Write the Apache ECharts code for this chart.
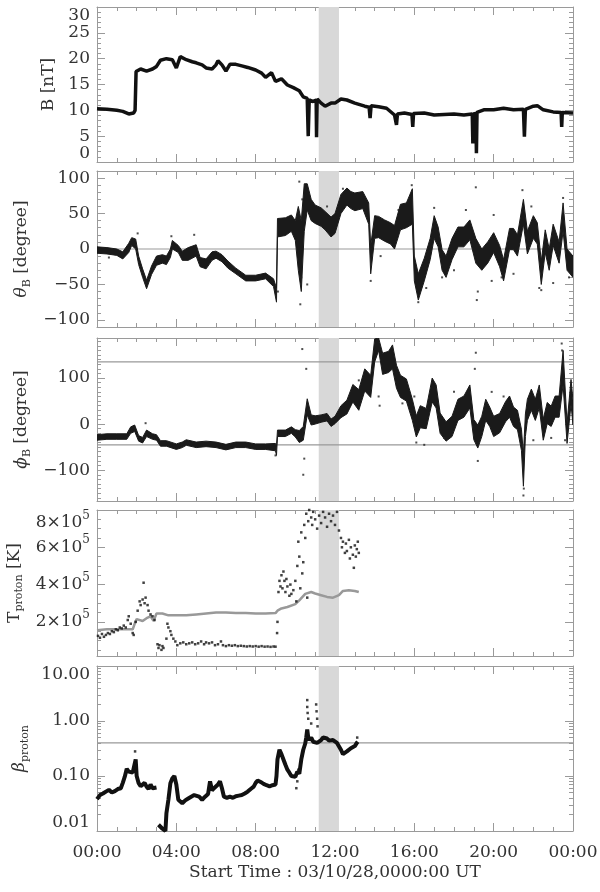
<!DOCTYPE html>
<html><head><meta charset="utf-8">
<script src="https://cdn.jsdelivr.net/npm/echarts@6/dist/echarts.min.js"></script>
<style>html,body{margin:0;padding:0;background:#fff}#c{width:600px;height:892px}</style>
</head><body><div id="c"></div>
<script>
// ---------------- DATA (hours since 00:00 UT) ----------------
const bandHours = [11.18, 12.2];

// Panel 1: |B| [nT]
const bT = [0,0.5,1,1.3,1.6,1.85,1.92,1.97,2.2,2.5,2.8,3.0,3.2,3.5,3.8,4.0,4.2,4.5,4.8,5.0,5.3,5.5,5.8,6.0,6.1,6.3,6.5,6.7,7.0,7.3,7.6,8.0,8.3,8.5,8.8,9.0,9.3,9.6,9.9,10.2,10.4,10.6,10.65,10.7,10.9,11.05,11.07,11.1,11.3,11.5,11.8,12.0,12.3,12.6,13.0,13.5,13.72,13.77,13.82,14.2,14.6,15.0,15.08,15.1,15.15,15.5,15.88,15.92,15.96,16.5,17.0,17.5,18.0,18.5,18.92,18.95,18.98,19.1,19.13,19.16,19.5,20.0,20.5,21.0,21.5,21.55,21.6,22.0,22.2,22.5,23.0,23.4,23.43,23.46,24];
const bV = [10.3,10.2,10.0,9.8,9.3,9.5,10.0,17.5,18.0,17.6,18.0,18.5,19.7,20.0,19.8,18.2,20.4,19.8,19.4,19.2,18.8,18.2,18.0,18.8,19.6,18.8,17.6,18.9,18.9,18.6,18.3,17.8,17.2,16.4,17.3,15.6,16.1,14.9,14.4,13.8,12.6,12.3,5.0,12.0,11.7,12.0,4.8,12.2,11.4,10.8,11.4,11.4,12.2,12.0,11.4,10.8,10.6,8.5,10.9,10.7,10.4,9.1,9.0,7.2,9.3,9.5,9.2,6.8,9.4,9.5,9.1,9.2,9.3,9.1,9.3,3.6,9.3,9.4,1.7,9.6,10.1,10.1,10.4,10.1,10.2,4.9,10.2,10.8,10.9,10.1,9.7,9.6,6.8,9.6,9.5];

// Panel 2: theta_B [degree]  (time, lower, upper of the dense band)
const thT  = [0,0.5,1.0,1.3,1.6,1.75,1.95,2.1,2.3,2.5,2.75,3.0,3.3,3.5,3.7,3.8,4.1,4.3,4.6,5.0,5.2,5.5,5.8,6.0,6.3,6.6,7.0,7.5,8.0,8.5,8.9,9.05,9.1,9.5,9.8,10.0,10.15,10.3,10.45,10.6,10.8,11.0,11.3,11.5,11.8,12.0,12.3,12.6,12.8,13.0,13.4,13.7,13.8,14.0,14.2,14.5,14.8,15.0,15.3,15.6,15.9,16.0,16.2,16.5,16.8,17.0,17.2,17.4,17.6,17.9,18.2,18.5,18.8,19.1,19.4,19.7,20.0,20.3,20.5,20.8,21.0,21.2,21.5,21.7,22.0,22.2,22.4,22.6,22.8,23.0,23.3,23.5,23.7,24.0];
const thLo = [-6,-7,-9,-14,-5,5,0,-22,-40,-56,-36,-23,-20,-22,-12,0,-5,-16,-16,-10,-25,-28,-16,-13,-18,-27,-35,-45,-45,-42,-53,-75,17,19,25,12,-30,-60,25,55,40,36,32,27,17,22,50,62,57,54,57,35,-35,15,16,11,7,0,27,30,35,-45,-72,-45,-15,15,3,-30,-40,-15,3,3,13,-20,-30,-20,-5,-25,-45,-1,-1,-10,35,-7,15,7,-50,-5,-30,5,-20,25,-30,-40];
const thHi = [3,2,0,-4,8,16,14,-10,-28,-44,-24,-10,-8,-10,0,12,5,-3,2,6,-12,-14,-4,-3,-8,-17,-27,-37,-37,-34,-42,-55,43,44,48,40,60,40,92,92,70,62,58,53,45,50,77,86,81,79,81,65,5,47,46,41,37,33,63,65,85,-10,-35,-13,15,47,31,-1,-10,15,31,31,41,15,0,10,23,5,-15,29,29,20,70,25,47,37,-17,27,0,35,10,65,0,-10];
const thOutT = [0.6,2.05,3.75,4.9,9.12,10.2,10.25,10.3,10.35,10.6,11.6,12.4,13.8,14.3,15.2,15.87,16.2,16.6,17.0,17.4,18.0,18.6,19.1,19.15,19.2,19.9,20.0,20.4,21.0,21.45,21.9,22.3,22.4,23.0,23.5,23.8];
const thOutV = [-12,22,18,20,-60,95,-78,-40,70,-50,60,85,-45,-10,55,90,-75,-55,58,-40,-30,55,87,-72,-60,-45,48,-40,-35,83,60,-55,-58,-48,72,-40];

// Panel 3: phi_B [degree]
const phT  = [0,0.5,1.0,1.5,1.7,1.9,2.1,2.3,2.5,2.8,3.0,3.2,3.5,4.0,4.3,4.5,5.0,5.5,6.0,6.5,7.0,7.5,8.0,8.5,9.0,9.05,9.1,9.5,9.8,10.0,10.2,10.4,10.6,10.8,11.0,11.3,11.6,11.8,12.0,12.3,12.6,12.9,13.2,13.5,13.8,14.0,14.2,14.4,14.7,14.9,15.1,15.3,15.6,15.9,16.1,16.3,16.6,16.9,17.1,17.3,17.6,17.9,18.2,18.5,18.8,19.0,19.2,19.4,19.6,19.8,20.0,20.3,20.6,20.8,21.0,21.2,21.4,21.5,21.6,21.7,21.9,22.1,22.3,22.5,22.7,22.9,23.1,23.3,23.5,23.7,23.9,24.0];
const phLo = [-35,-33,-33,-33,-20,-16,-37,-41,-27,-33,-35,-48,-48,-55,-51,-46,-51,-49,-51,-56,-51,-51,-55,-55,-58,-68,-27,-27,-20,-28,-40,-35,20,-2,0,4,7,-5,1,14,22,48,30,72,58,135,160,108,112,120,78,58,50,8,-28,-8,-10,48,35,-20,-37,-27,8,15,35,-34,-52,-27,8,-5,-27,-19,5,15,-5,-12,-57,-135,-27,8,30,8,35,-35,1,-5,15,15,85,-42,43,-2];
const phHi = [-23,-21,-21,-21,-6,-2,-25,-29,-13,-21,-23,-36,-36,-43,-39,-34,-39,-37,-39,-44,-39,-39,-43,-43,-42,-48,-13,-13,-6,-12,-14,-5,55,20,18,20,23,11,17,40,52,86,75,120,106,185,187,154,158,172,128,106,98,54,18,40,34,100,85,24,5,17,54,61,85,10,-2,17,54,37,17,23,49,61,37,30,-11,-65,22,54,76,54,85,11,47,39,61,61,160,2,97,52];
const phOutT = [2.45,9.0,10.35,10.4,10.45,10.55,13.2,14.2,14.25,15.4,16.0,16.1,16.5,17.5,18.0,19.05,19.1,19.2,19.9,20.5,21.5,21.52,22.0,22.9,23.43,23.45,23.6];
const phOutV = [2,-68,163,-110,-75,120,95,60,40,45,60,-40,-45,-30,70,120,155,-80,70,60,-155,-140,-35,-30,175,160,-35];

// Panel 4: proton temperature [K] (black: measured, grey: expected)
const tbT = [0.05,0.15,0.25,0.35,0.45,0.55,0.65,0.75,0.85,0.95,1.05,1.15,1.25,1.35,1.45,1.55,1.6,1.7,1.8,1.85,1.95,2.05,2.15,2.2,2.3,2.35,2.4,2.45,2.55,2.6,2.7,2.8,2.9,3.05,3.1,3.15,3.25,3.3,3.35,3.5,3.55,3.6,3.7,3.75,3.85,3.95,4.05,4.2,4.35,4.5,4.65,4.8,4.95,5.1,5.25,5.4,5.5,5.65,5.8,5.95,6.1,6.25,6.35,6.5,6.65,6.8,6.95,7.1,7.25,7.4,7.55,7.7,7.85,8.0,8.15,8.3,8.45,8.6,8.75,8.9,9.0,9.08,9.1,9.15,9.2,9.25,9.3,9.35,9.4,9.45,9.5,9.55,9.6,9.7,9.75,9.8,9.9,10.0,10.05,10.1,10.15,10.2,10.25,10.3,10.35,10.4,10.45,10.5,10.55,10.6,10.65,10.7,10.8,10.85,10.9,11.0,11.1,11.2,11.3,11.4,11.5,11.6,11.7,11.8,11.9,12.0,12.1,12.2,12.3,12.35,12.4,12.5,12.55,12.6,12.7,12.75,12.8,12.9,12.95,13.0,13.05,13.1,13.15,13.2];
const tbV = [125000,115000,135000,120000,130000,140000,135000,150000,145000,160000,155000,170000,165000,180000,170000,210000,230000,190000,140000,130000,200000,260000,310000,290000,320000,410000,300000,330000,290000,260000,240000,230000,210000,80000,60000,75000,50000,70000,60000,110000,190000,170000,150000,130000,110000,95000,75000,85000,90000,80000,85000,90000,80000,85000,95000,80000,90000,85000,90000,75000,80000,95000,75000,70000,75000,72000,75000,70000,72000,70000,68000,70000,68000,70000,67000,70000,67000,68000,66000,68000,67000,140000,200000,360000,420000,390000,450000,380000,470000,420000,360000,430000,390000,340000,400000,350000,370000,420000,310000,500000,630000,550000,380000,680000,460000,520000,720000,650000,780000,330000,740000,800000,760000,720000,790000,750000,700000,770000,730000,790000,760000,710000,780000,740000,770000,720000,790000,690000,650000,600000,630000,570000,620000,580000,640000,540000,600000,560000,490000,610000,550000,590000,630000,570000];
const tgT = [0,0.5,1.0,1.5,1.8,1.9,2.0,2.3,2.5,2.7,2.85,3.0,3.3,3.6,4.0,4.5,5.0,5.5,6.0,6.5,7.0,7.5,8.0,8.5,9.0,9.1,9.3,9.6,10.0,10.2,10.5,10.8,11.0,11.3,11.6,11.9,12.2,12.4,12.7,13.0,13.2];
const tgV = [155000,160000,160000,160000,160000,190000,215000,205000,220000,230000,205000,245000,245000,235000,235000,235000,240000,245000,250000,250000,248000,247000,245000,245000,247000,260000,272000,280000,295000,315000,350000,360000,352000,343000,334000,330000,343000,366000,370000,366000,360000];

// Panel 5: proton beta
const beT = [0,0.15,0.3,0.45,0.6,0.75,0.9,1.05,1.2,1.3,1.4,1.5,1.6,1.7,1.8,1.9,1.95,2.0,2.1,2.2,2.3,2.4,2.5,2.6,2.7,2.8,2.9,3.0,3.05,3.1,3.2,3.3,3.4,3.45,3.5,3.6,3.7,3.8,3.9,4.0,4.1,4.2,4.3,4.45,4.6,4.75,4.9,5.0,5.15,5.3,5.45,5.6,5.7,5.8,5.9,6.0,6.1,6.2,6.3,6.4,6.55,6.7,6.85,7.0,7.15,7.3,7.45,7.6,7.75,7.9,8.0,8.1,8.25,8.4,8.55,8.7,8.85,9.0,9.05,9.1,9.2,9.3,9.4,9.5,9.6,9.7,9.8,9.9,10.0,10.1,10.2,10.3,10.4,10.5,10.55,10.6,10.65,10.7,10.8,10.9,11.0,11.1,11.2,11.3,11.4,11.5,11.6,11.7,11.8,11.9,12.0,12.1,12.2,12.3,12.4,12.5,12.6,12.7,12.8,12.9,13.0,13.1,13.15];
const beV = [0.038,0.045,0.048,0.052,0.056,0.05,0.053,0.058,0.06,0.075,0.097,0.135,0.12,0.13,0.115,0.11,0.2,0.1,0.074,0.065,0.068,0.075,0.064,0.058,0.07,0.06,0.065,0.062,null,0.013,0.012,0.011,0.0105,0.01,0.021,0.037,0.074,0.091,0.1,0.07,0.037,0.035,0.032,0.036,0.039,0.042,0.045,0.047,0.042,0.037,0.042,0.047,0.08,0.055,0.06,0.064,0.07,0.08,0.06,0.042,0.04,0.042,0.04,0.043,0.044,0.045,0.048,0.052,0.058,0.064,0.075,0.083,0.078,0.072,0.068,0.065,0.068,0.07,0.1,0.2,0.3,0.25,0.2,0.16,0.13,0.115,0.1,0.098,0.097,0.12,0.11,0.2,0.3,0.39,0.5,0.7,0.5,0.45,0.5,0.42,0.45,0.4,0.42,0.45,0.5,0.46,0.48,0.44,0.46,0.45,0.42,0.4,0.37,0.3,0.25,0.27,0.28,0.3,0.32,0.3,0.35,0.4,0.42];
const beOutT = [1.92,10.05,10.1,10.15,10.6,10.6,10.62,10.65,10.8,11.05,11.07,11.1,11.12,13.12];
const beOutV = [0.28,0.06,0.08,0.13,2.4,1.8,1.4,1.1,0.9,2.0,1.5,1.1,0.8,0.5];

// Reference lines per panel
const refLines = [[], [0], [135, -45], [], [0.4]];

// Axis tick values
const bTicks = [0,5,10,15,20,25,30];
const thetaTicks = [-100,-50,0,50,100];
const phiTicks = [-100,0,100];
const tempTicks = [200000,400000,600000,800000];
const betaTicks = [0.01,0.1,1,10];
const xMin = 0, xMax = 24, xStep = 4;

// ---------------- STYLE / LAYOUT ----------------
const FONT = 'DejaVu Serif';
const TXT = '#333';
const AX = '#9a9a9a';
const FS = 17;

function seq(a, b, s) { const r = []; for (let v = a; v <= b + 1e-9; v += s) r.push(Math.round(v * 1e6) / 1e6); return r; }
function minorsOf(all, majors) { return all.filter(v => !majors.some(m => Math.abs(m - v) < 1e-9)); }
const minus = v => v < 0 ? '\u2212' + (-v) : String(v);
const logMinors = [];
[0.01, 0.1, 1].forEach(d => { for (let k = 2; k <= 9; k++) logMinors.push(+(d * k).toPrecision(3)); });

const subRich = {
  sub: { fontFamily: FONT, fontSize: 11, color: TXT, padding: [10, 0, 0, 0] },
  it: { fontFamily: FONT, fontSize: FS, color: TXT, fontStyle: 'italic' },
  n: { fontFamily: FONT, fontSize: FS, color: TXT }
};

const P = [
  { top: 7, h: 155, min: 0, max: 30, majors: bTicks, minors: minorsOf(seq(0, 30, 1), bTicks), fmt: v => String(v), name: '{n|B [nT]}', gap: 38, vMin: 'bottom', vMax: 'top' },
  { top: 171, h: 156, min: -110, max: 110, majors: thetaTicks, minors: minorsOf(seq(-110, 110, 10), thetaTicks), fmt: minus, name: '{it|θ}{sub|B}{n| [degree]}', gap: 62 },
  { top: 338, h: 163, min: -167, max: 187, majors: phiTicks, minors: minorsOf(seq(-160, 180, 10), phiTicks), fmt: minus, name: '{it|ϕ}{sub|B}{n| [degree]}', gap: 62 },
  { top: 510, h: 146, min: 17000, max: 800000, majors: tempTicks, minors: minorsOf(seq(50000, 750000, 50000), tempTicks), fmt: v => (v / 1e5) + '×10{sup|5}', name: '{n|T}{sub|proton}{n| [K]}', gap: 70, vMax: 'top' },
  { top: 666, h: 165, log: true, min: 0.01, max: 10, majors: betaTicks, minors: logMinors, fmt: v => (+v).toFixed(2), name: '{it|β}{sub|proton}', gap: 66, vMin: 'bottom', vMax: 'top' }
];

const grids = [], xAxes = [], yAxes = [], series = [];

P.forEach((p, gi) => {
  grids.push({ left: 97, width: 476, top: p.top, height: p.h, containLabel: false, outerBoundsMode: 'none' });
  const last = gi === P.length - 1;
  ['bottom', 'top'].forEach(pos => {
    xAxes.push({
      type: 'value', gridIndex: gi, position: pos, min: xMin, max: xMax, interval: xStep,
      axisLine: { show: true, onZero: false, lineStyle: { color: AX, width: 1 } },
      axisTick: { show: true, inside: true, length: 8, lineStyle: { color: AX } },
      minorTick: { show: true, splitNumber: 4, length: 4, lineStyle: { color: AX } },
      splitLine: { show: false },
      axisLabel: { show: last && pos === 'bottom', margin: 13, color: TXT, fontFamily: FONT, fontSize: FS,
        formatter: v => { const h = v % 24; return (h < 10 ? '0' : '') + h + ':00'; } },
      name: (last && pos === 'bottom') ? 'Start Time : 03/10/28,0000:00 UT' : '',
      nameLocation: 'middle', nameGap: 33,
      nameTextStyle: { color: TXT, fontFamily: FONT, fontSize: FS }
    });
  });
  const base = { type: p.log ? 'log' : 'value', gridIndex: gi, min: p.min, max: p.max, splitLine: { show: false } };
  if (p.log) base.logBase = 10;
  ['left', 'right'].forEach(pos => {
    const lab = {
      show: true, customValues: p.majors, formatter: p.fmt, margin: 7,
      color: TXT, fontFamily: FONT, fontSize: FS,
      rich: { sup: { fontFamily: FONT, fontSize: 12, color: TXT, padding: [0, 0, 14, 0] } }
    };
    if (p.vMin) lab.verticalAlignMinLabel = p.vMin;
    if (p.vMax) lab.verticalAlignMaxLabel = p.vMax;
    yAxes.push(Object.assign({}, base, {
      position: pos,
      axisLine: { show: true, onZero: false, lineStyle: { color: AX, width: 1 } },
      axisTick: { show: true, inside: true, length: 8, customValues: p.majors, lineStyle: { color: AX } },
      axisLabel: pos === 'left' ? lab : { show: false },
      name: pos === 'left' ? p.name : '', nameLocation: 'middle', nameRotate: 90, nameGap: p.gap,
      nameTextStyle: { color: TXT, fontFamily: FONT, fontSize: FS, rich: subRich }
    }));
    yAxes.push(Object.assign({}, base, {
      position: pos,
      axisLine: { show: false, onZero: false },
      axisTick: { show: true, inside: true, length: 4, customValues: p.minors, lineStyle: { color: AX } },
      axisLabel: { show: false }
    }));
  });
  const xi = gi * 2, yi = gi * 4;
  // grey interval band
  series.push({
    type: 'custom', xAxisIndex: xi, yAxisIndex: yi, z: 1, silent: true,
    data: [[bandHours[0], bandHours[1]]],
    renderItem: (params, api) => {
      const cs = params.coordSys;
      const x1 = api.coord([api.value(0), p.min])[0];
      const x2 = api.coord([api.value(1), p.min])[0];
      return { type: 'rect', shape: { x: x1, y: cs.y, width: x2 - x1, height: cs.height }, style: { fill: '#d8d8d8' } };
    }
  });
  refLines[gi].forEach(v => {
    series.push({ type: 'line', xAxisIndex: xi, yAxisIndex: yi, z: 2, silent: true, symbol: 'none',
      data: [[xMin, v], [xMax, v]], lineStyle: { color: '#999', width: 1.2 } });
  });
});

function band(gi, T, LO, HI) {
  return {
    type: 'custom', xAxisIndex: gi * 2, yAxisIndex: gi * 4, z: 3, clip: true, silent: true,
    data: T.map((t, i) => [t, LO[i], HI[i]]),
    renderItem: (params, api) => {
      if (params.dataIndex !== 0) return null;
      const up = T.map((t, i) => api.coord([t, HI[i]]));
      const lo = T.map((t, i) => api.coord([t, LO[i]])).reverse();
      return { type: 'polygon', shape: { points: up.concat(lo) }, style: { fill: '#1a1a1a', stroke: '#1a1a1a', lineWidth: 1 } };
    }
  };
}
const zip = (a, b) => a.map((t, i) => [t, b[i]]);
const dots = (gi, T, V, size, color) => ({ type: 'scatter', xAxisIndex: gi * 2, yAxisIndex: gi * 4, z: 4, silent: true,
  symbol: 'rect', symbolSize: size, itemStyle: { color: color }, data: zip(T, V) });

series.push({ type: 'line', xAxisIndex: 0, yAxisIndex: 0, z: 3, silent: true, symbol: 'none',
  data: zip(bT, bV), lineStyle: { color: '#111', width: 3.5 } });
series.push(band(1, thT, thLo, thHi));
series.push(dots(1, thOutT, thOutV, 2, '#222'));
series.push(band(2, phT, phLo, phHi));
series.push(dots(2, phOutT, phOutV, 2, '#222'));
series.push({ type: 'line', xAxisIndex: 6, yAxisIndex: 12, z: 3, silent: true, symbol: 'none',
  data: zip(tgT, tgV), lineStyle: { color: '#999', width: 2.5 } });
series.push(dots(3, tbT, tbV, 2.5, '#111'));
series.push({ type: 'line', xAxisIndex: 8, yAxisIndex: 16, z: 3, silent: true, symbol: 'none', connectNulls: false,
  data: zip(beT, beV), lineStyle: { color: '#111', width: 4 } });
series.push(dots(4, beOutT, beOutV, 2.5, '#111'));

const chart = echarts.init(document.getElementById('c'), null, { renderer: 'canvas' });
chart.setOption({ animation: false, backgroundColor: '#fff', grid: grids, xAxis: xAxes, yAxis: yAxes, series: series });
</script>
</body></html>
